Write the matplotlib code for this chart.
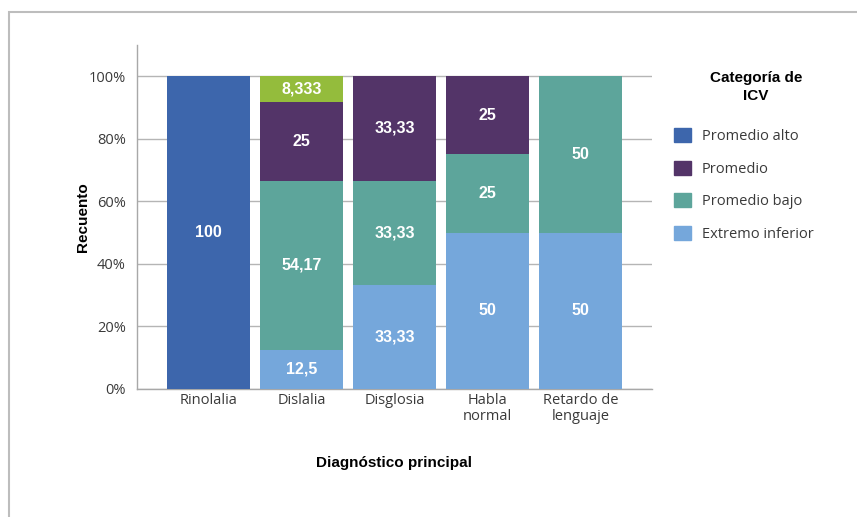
import numpy as np
import matplotlib.pyplot as plt
from matplotlib.patches import Patch, Rectangle

plt.rcParams['font.family'] = ['Open Sans', 'DejaVu Sans']

categorias = ['Rinolalia', 'Dislalia', 'Disglosia', 'Habla\nnormal', 'Retardo de\nlenguaje']

# orden de apilado: de abajo hacia arriba
extremo_inferior = [0, 12.5, 33.33, 50, 50]
promedio_bajo = [0, 54.17, 33.33, 25, 50]
promedio = [0, 25, 33.33, 25, 0]
promedio_alto = [100, 0, 0, 0, 0]
superior = [0, 8.333, 0, 0, 0]

etq_extremo_inferior = ['', '12,5', '33,33', '50', '50']
etq_promedio_bajo = ['', '54,17', '33,33', '25', '50']
etq_promedio = ['', '25', '33,33', '25', '']
etq_promedio_alto = ['100', '', '', '', '']
etq_superior = ['', '8,333', '', '', '']

yticks = [0, 20, 40, 60, 80, 100]
ytick_labels = ['0%', '20%', '40%', '60%', '80%', '100%']

series = [
    (extremo_inferior, etq_extremo_inferior, '#75A7DB', 'Extremo inferior'),
    (promedio_bajo, etq_promedio_bajo, '#5DA59B', 'Promedio bajo'),
    (promedio, etq_promedio, '#533468', 'Promedio'),
    (promedio_alto, etq_promedio_alto, '#3D66AC', 'Promedio alto'),
    (superior, etq_superior, '#94BC3C', None),
]

fig = plt.figure(figsize=(8.57, 5.17), dpi=100)
ax = fig.add_axes([137 / 857, 128 / 517, 515 / 857, 344 / 517])

x = np.arange(len(categorias))
bottom = np.zeros(len(categorias))
for vals, etq, color, nombre in series:
    vals = np.array(vals, dtype=float)
    bars = ax.bar(x, vals, 0.89, bottom=bottom, color=color, zorder=3)
    ax.bar_label(bars, labels=etq, label_type='center', color='white',
                 fontsize=11.5, fontweight='bold', family='Liberation Sans')
    bottom += vals

ax.set_ylim(0, 110)
ax.set_xlim(-0.77, 4.77)
ax.set_yticks(yticks)
ax.set_yticklabels(ytick_labels)
ax.set_xticks(x)
ax.set_xticklabels(categorias, linespacing=1.05)
ax.tick_params(axis='both', length=0, labelsize=10.5, colors='#3A3A3A')
ax.tick_params(axis='y', pad=8)
ax.tick_params(axis='x', pad=3)
ax.grid(axis='y', color='#B5B5B5', linewidth=1, zorder=0)
for s in ['top', 'right']:
    ax.spines[s].set_visible(False)
for s in ['left', 'bottom']:
    ax.spines[s].set_color('#A8A8A8')
    ax.spines[s].set_linewidth(1)

ax.set_ylabel('Recuento', fontsize=11, fontweight='bold', family='Liberation Sans',
              va='center')
ax.yaxis.set_label_coords(-0.105, 0.5)
ax.set_xlabel('Diagnóstico principal', fontsize=11, fontweight='bold',
              family='Liberation Sans', va='center')
ax.xaxis.set_label_coords(0.5, -0.215)

# leyenda
fig.text(756 / 857, 1 - 87 / 517, 'Categoría de\nICV', ha='center', va='center',
         fontsize=11, fontweight='bold', family='Liberation Sans', linespacing=1.4)
handles = [Patch(color='#3D66AC'), Patch(color='#533468'),
           Patch(color='#5DA59B'), Patch(color='#75A7DB')]
nombres = ['Promedio alto', 'Promedio', 'Promedio bajo', 'Extremo inferior']
leg = fig.legend(handles, nombres, loc='upper left',
                 bbox_to_anchor=(674 / 857, 1 - 128 / 517), frameon=False,
                 fontsize=10.5, handlelength=1.15, handleheight=1.15,
                 labelspacing=1.12, handletextpad=0.75, borderaxespad=0,
                 borderpad=0)
for t in leg.get_texts():
    t.set_color('#3A3A3A')

# marco gris
fig.add_artist(Rectangle((9 / 857, -0.1), 1.2, 1.1 - 12 / 517, transform=fig.transFigure,
                         fill=False, edgecolor='#BDBDBD', linewidth=1.5))

fig.savefig('out.png', dpi=100)
